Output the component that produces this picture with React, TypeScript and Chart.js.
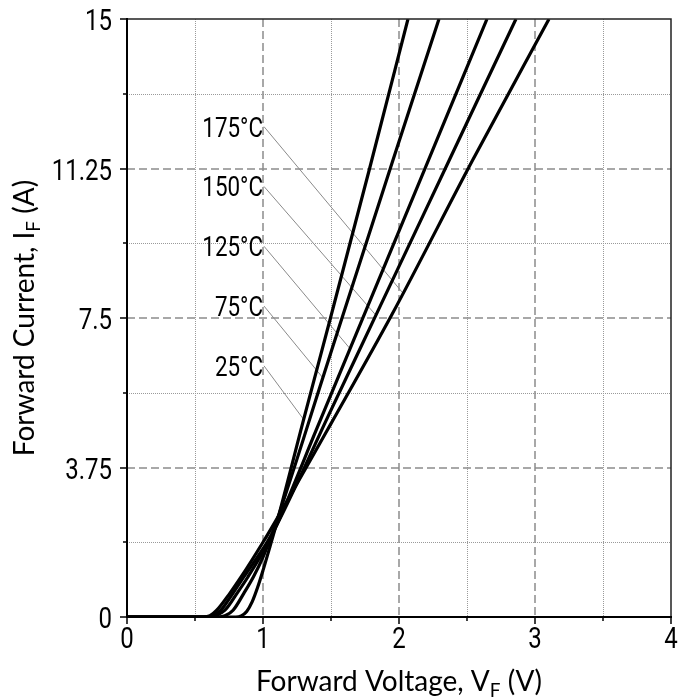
import React, { useEffect, useRef } from 'react';
import { Chart, registerables } from 'chart.js';

Chart.register(...registerables);

// ---- axis ticks ----
const X_MAJOR = [0, 1, 2, 3, 4];
const X_MINOR = [0.5, 1.5, 2.5, 3.5];
const Y_MAJOR = [0, 3.75, 7.5, 11.25, 15];
const Y_MINOR = [1.875, 5.625, 9.375, 13.125];
const X_TICK_LABELS = ['0', '1', '2', '3', '4'];
const Y_TICK_LABELS = ['0', '3.75', '7.5', '11.25', '15'];

// ---- series (forward voltage V, forward current A) ----
const V_25 = [0, 0.8, 0.84, 0.88, 0.92, 0.96, 1.0, 1.05, 1.1, 1.3, 1.5, 1.78, 2.066];
const I_25 = [0, 0, 0.03, 0.14, 0.38, 0.74, 1.17, 1.75, 2.35, 4.97, 7.55, 11.2, 15];

const V_75 = [0, 0.67, 0.72, 0.78, 0.86, 0.93, 1.0, 1.05, 1.1, 1.44, 1.575, 1.95, 2.294];
const I_75 = [0, 0, 0.03, 0.17, 0.6, 1.01, 1.5, 1.93, 2.4, 6.0, 7.44, 11.4, 15];

const V_125 = [0, 0.6, 0.65, 0.72, 0.81, 0.89, 1.04, 1.1, 1.4, 1.723, 2.2, 2.647];
const I_125 = [0, 0, 0.03, 0.17, 0.6, 1.01, 1.875, 2.3, 4.76, 7.41, 11.32, 15];

const V_150 = [0, 0.58, 0.63, 0.69, 0.78, 0.86, 1.03, 1.1, 1.5, 1.84, 2.35, 2.86];
const I_150 = [0, 0, 0.03, 0.17, 0.6, 1.01, 1.875, 2.3, 5.19, 7.64, 11.32, 15];

const V_175 = [0, 0.56, 0.61, 0.66, 0.757, 0.84, 1.0, 1.1, 1.5, 1.95, 2.54, 3.103];
const I_175 = [0, 0, 0.03, 0.17, 0.6, 1.01, 1.875, 2.45, 4.85, 7.6, 11.45, 15];

const SERIES_NAMES = ['25°C', '75°C', '125°C', '150°C', '175°C'];
const SERIES_V = [V_25, V_75, V_125, V_150, V_175];
const SERIES_I = [I_25, I_75, I_125, I_150, I_175];

// ---- temperature labels with leader lines ----
const LABEL_TEXT = ['175°C', '150°C', '125°C', '75°C', '25°C'];
const LABEL_V = [1.0, 1.0, 1.0, 1.0, 1.0];
const LABEL_I = [12.3, 10.8, 9.3, 7.8, 6.3];
const LEADER_V = [2.03, 1.83, 1.64, 1.44, 1.3];
const LEADER_I = [8.12, 7.57, 6.73, 6.0, 4.95];

// ---- axis titles (main, subscript, tail) ----
const X_TITLE = ['Forward Voltage, V', 'F', ' (V)'];
const Y_TITLE = ['Forward Current, I', 'F', ' (A)'];

const NARROW_FAMILY = "Roboto, 'Noto Sans', sans-serif";
const NARROW_SCALE = 0.8;
const TITLE_FAMILY = "Lato, 'Open Sans', sans-serif";

function drawNarrow(ctx: CanvasRenderingContext2D, text: string, x: number, y: number, align: CanvasTextAlign, size: number) {
  ctx.save();
  ctx.translate(x, y);
  ctx.scale(NARROW_SCALE, 1);
  ctx.font = `${size}px ${NARROW_FAMILY}`;
  ctx.textAlign = align;
  ctx.textBaseline = 'alphabetic';
  ctx.fillStyle = '#000';
  ctx.fillText(text, 0, 0);
  ctx.restore();
}

function drawSubText(ctx: CanvasRenderingContext2D, parts: string[], cx: number, baseline: number) {
  ctx.font = `28px ${TITLE_FAMILY}`;
  const w1 = ctx.measureText(parts[0]).width;
  const w3 = ctx.measureText(parts[2]).width;
  ctx.font = `19px ${TITLE_FAMILY}`;
  const w2 = ctx.measureText(parts[1]).width;
  const start = cx - (w1 + w2 + w3) / 2;
  ctx.textAlign = 'left';
  ctx.textBaseline = 'alphabetic';
  ctx.fillStyle = '#000';
  ctx.font = `28px ${TITLE_FAMILY}`;
  ctx.fillText(parts[0], start, baseline);
  ctx.font = `19px ${TITLE_FAMILY}`;
  ctx.fillText(parts[1], start + w1, baseline + 6);
  ctx.font = `28px ${TITLE_FAMILY}`;
  ctx.fillText(parts[2], start + w1 + w2, baseline);
}

const decorPlugin = {
  id: 'decor',
  beforeDatasetsDraw(chart: any) {
    const { ctx, chartArea: a, scales } = chart;
    const x = scales.x;
    const y = scales.y;
    ctx.save();
    // minor dotted grid
    ctx.strokeStyle = '#9a9a9a';
    ctx.lineWidth = 1;
    ctx.setLineDash([1, 1]);
    X_MINOR.forEach((v) => {
      const px = Math.round(x.getPixelForValue(v)) + 0.5;
      ctx.beginPath(); ctx.moveTo(px, a.top); ctx.lineTo(px, a.bottom); ctx.stroke();
    });
    Y_MINOR.forEach((v) => {
      const py = Math.round(y.getPixelForValue(v)) + 0.5;
      ctx.beginPath(); ctx.moveTo(a.left, py); ctx.lineTo(a.right, py); ctx.stroke();
    });
    // major dashed grid
    ctx.strokeStyle = '#8c8c8c';
    ctx.lineWidth = 1.5;
    ctx.setLineDash([8, 4]);
    X_MAJOR.filter((v) => v > x.min && v < x.max).forEach((v) => {
      const px = Math.round(x.getPixelForValue(v));
      ctx.beginPath(); ctx.moveTo(px, a.top); ctx.lineTo(px, a.bottom); ctx.stroke();
    });
    Y_MAJOR.filter((v) => v > y.min && v < y.max).forEach((v) => {
      const py = Math.round(y.getPixelForValue(v));
      ctx.beginPath(); ctx.moveTo(a.left, py); ctx.lineTo(a.right, py); ctx.stroke();
    });
    ctx.setLineDash([]);
    // leader lines
    ctx.strokeStyle = '#8a8a8a';
    ctx.lineWidth = 1;
    LABEL_TEXT.forEach((_, i) => {
      ctx.beginPath();
      ctx.moveTo(x.getPixelForValue(LABEL_V[i]) + 1, y.getPixelForValue(LABEL_I[i]));
      ctx.lineTo(x.getPixelForValue(LEADER_V[i]), y.getPixelForValue(LEADER_I[i]));
      ctx.stroke();
    });
    // labels
    LABEL_TEXT.forEach((t, i) => {
      drawNarrow(ctx, t, x.getPixelForValue(LABEL_V[i]), y.getPixelForValue(LABEL_I[i]) + 10, 'right', 28);
    });
    ctx.restore();
  },
  afterDatasetsDraw(chart: any) {
    const { ctx, chartArea: a, scales } = chart;
    const x = scales.x;
    const y = scales.y;
    ctx.save();
    // frame
    ctx.strokeStyle = '#222';
    ctx.lineWidth = 1.5;
    ctx.beginPath();
    ctx.moveTo(a.left, a.top); ctx.lineTo(a.right, a.top); ctx.lineTo(a.right, a.bottom);
    ctx.stroke();
    ctx.strokeStyle = '#000';
    ctx.lineWidth = 2;
    ctx.beginPath();
    ctx.moveTo(a.left, a.top - 1); ctx.lineTo(a.left, a.bottom); ctx.lineTo(a.right + 1, a.bottom);
    ctx.stroke();
    // tick marks
    ctx.lineWidth = 1.5;
    X_MAJOR.forEach((v) => {
      const px = Math.round(x.getPixelForValue(v));
      ctx.beginPath(); ctx.moveTo(px, a.bottom); ctx.lineTo(px, a.bottom + 7); ctx.stroke();
    });
    X_MINOR.forEach((v) => {
      const px = Math.round(x.getPixelForValue(v));
      ctx.beginPath(); ctx.moveTo(px, a.bottom); ctx.lineTo(px, a.bottom + 4); ctx.stroke();
    });
    Y_MAJOR.forEach((v) => {
      const py = Math.round(y.getPixelForValue(v));
      ctx.beginPath(); ctx.moveTo(a.left, py); ctx.lineTo(a.left - 7, py); ctx.stroke();
    });
    Y_MINOR.forEach((v) => {
      const py = Math.round(y.getPixelForValue(v));
      ctx.beginPath(); ctx.moveTo(a.left, py); ctx.lineTo(a.left - 4, py); ctx.stroke();
    });
    // tick labels
    X_MAJOR.forEach((v, i) => {
      drawNarrow(ctx, X_TICK_LABELS[i], x.getPixelForValue(v), a.bottom + 31, 'center', 30);
    });
    Y_MAJOR.forEach((v, i) => {
      drawNarrow(ctx, Y_TICK_LABELS[i], a.left - 15, y.getPixelForValue(v) + 11, 'right', 30);
    });
    // axis titles
    drawSubText(ctx, X_TITLE, (a.left + a.right) / 2, 691);
    ctx.translate(34, (a.top + a.bottom) / 2);
    ctx.rotate(-Math.PI / 2);
    drawSubText(ctx, Y_TITLE, 0, 0);
    ctx.restore();
  },
};

export default function App() {
  const ref = useRef<HTMLCanvasElement | null>(null);

  useEffect(() => {
    if (!ref.current) return;
    const datasets = SERIES_NAMES.map((name, k) => ({
      label: name,
      data: SERIES_V[k].map((v, i) => ({ x: v, y: SERIES_I[k][i] })),
      borderColor: '#000',
      borderWidth: 3.2,
      pointRadius: 0,
      fill: false,
      cubicInterpolationMode: 'monotone' as const,
    }));
    const chart = new Chart(ref.current, {
      type: 'line',
      data: { datasets },
      options: {
        animation: false,
        responsive: false,
        layout: { padding: { top: 19, right: 7, bottom: 0, left: 0 } },
        plugins: { legend: { display: false }, tooltip: { enabled: false } },
        scales: {
          x: {
            type: 'linear',
            min: 0,
            max: 4,
            afterBuildTicks: (s: any) => { s.ticks = X_MAJOR.map((v) => ({ value: v })); },
            afterFit: (s: any) => { s.height = 83; },
            grid: { display: false, drawTicks: false },
            border: { display: false },
            ticks: { display: false },
          },
          y: {
            type: 'linear',
            min: 0,
            max: 15,
            afterBuildTicks: (s: any) => { s.ticks = Y_MAJOR.map((v) => ({ value: v })); },
            afterFit: (s: any) => { s.width = 127; },
            grid: { display: false, drawTicks: false },
            border: { display: false },
            ticks: { display: false },
          },
        },
      },
      plugins: [decorPlugin],
    });
    return () => chart.destroy();
  }, []);

  return (
    <div style={{ position: 'absolute', left: 0, top: 0, width: 678, height: 700, background: '#fff' }}>
      <canvas ref={ref} width={678} height={700} />
    </div>
  );
}
